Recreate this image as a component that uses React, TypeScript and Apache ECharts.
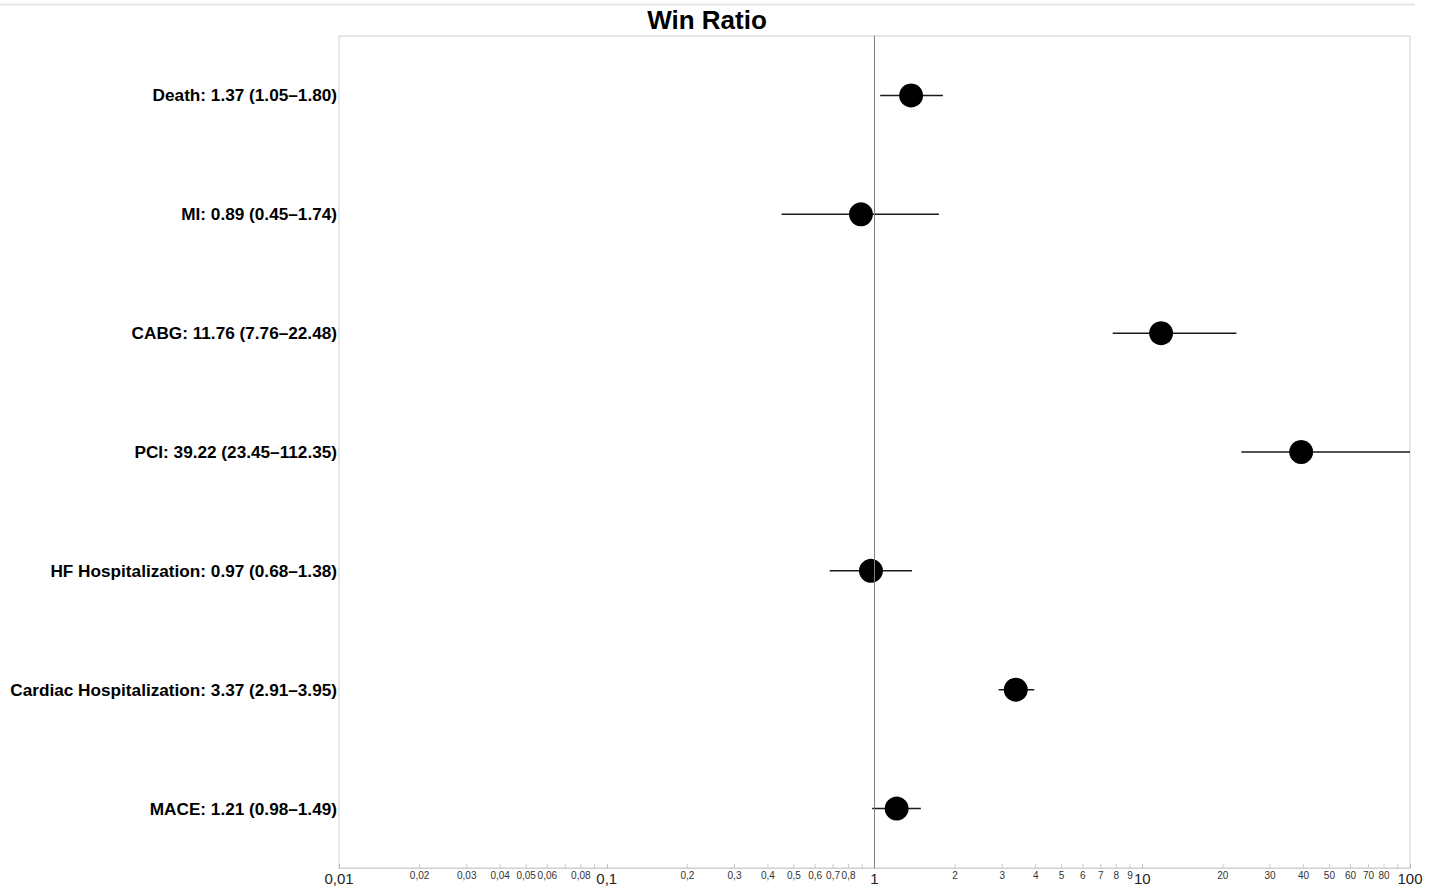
import React, { useEffect, useRef } from "react";
import * as echarts from "echarts";

const outcomes = ["Death", "MI", "CABG", "PCI", "HF Hospitalization", "Cardiac Hospitalization", "MACE"];
const estimates = [1.37, 0.89, 11.76, 39.22, 0.97, 3.37, 1.21];
const lowerCI = [1.05, 0.45, 7.76, 23.45, 0.68, 2.91, 0.98];
const upperCI = [1.8, 1.74, 22.48, 112.35, 1.38, 3.95, 1.49];

const minorTicks = [
  0.02, 0.03, 0.04, 0.05, 0.06, 0.07, 0.08, 0.09,
  0.2, 0.3, 0.4, 0.5, 0.6, 0.7, 0.8, 0.9,
  2, 3, 4, 5, 6, 7, 8, 9,
  20, 30, 40, 50, 60, 70, 80, 90,
];
const minorLabels = [
  0.02, 0.03, 0.04, 0.05, 0.06, 0.08,
  0.2, 0.3, 0.4, 0.5, 0.6, 0.7, 0.8,
  2, 3, 4, 5, 6, 7, 8, 9,
  20, 30, 40, 50, 60, 70, 80,
];

const fmtComma = (v: number) => String(v).replace(".", ",");

export default function App() {
  const ref = useRef<HTMLDivElement>(null);
  useEffect(() => {
    if (!ref.current) return;
    const chart = echarts.init(ref.current, null, { renderer: "svg" });
    const cats = outcomes.map(
      (o, i) => `${o}: ${estimates[i].toFixed(2)} (${lowerCI[i].toFixed(2)}–${upperCI[i].toFixed(2)})`
    );
    const font = "'Liberation Sans', Arial, Helvetica, sans-serif";
    chart.setOption({
      animation: false,
      textStyle: { fontFamily: font },
      title: {
        text: "Win Ratio",
        left: 702,
        top: 2,
        textAlign: "center",
        textStyle: { fontSize: 26, fontWeight: "bold", color: "#000", fontFamily: font },
      },
      graphic: [
        {
          type: "line",
          shape: { x1: 0, y1: 4.5, x2: 1415, y2: 4.5 },
          style: { stroke: "#e6e6e6", lineWidth: 2 },
          silent: true,
        },
      ],
      grid: {
        left: 339,
        right: 19,
        top: 36,
        bottom: 17,
        show: true,
        borderColor: "#cfcfcf",
        borderWidth: 1,
        containLabel: false,
      },
      xAxis: {
        type: "log",
        logBase: 10,
        min: 0.01,
        max: 100,
        splitLine: { show: false },
        axisLine: { show: true, lineStyle: { color: "#cfcfcf", width: 1 } },
        axisTick: { show: true, inside: true, length: 4, lineStyle: { color: "#bbbbbb" } },
        axisLabel: {
          show: true,
          margin: 3,
          fontSize: 15,
          color: "#222",
          fontFamily: font,
          formatter: (v: number) => fmtComma(Number(v.toPrecision(6))),
        },
      },
      yAxis: {
        type: "category",
        inverse: true,
        data: cats,
        axisLine: { show: false },
        axisTick: { show: false },
        splitLine: { show: false },
        axisLabel: {
          fontSize: 17.2,
          fontWeight: "bold",
          color: "#000",
          margin: 2,
          fontFamily: font,
        },
      },
      series: [
        {
          type: "custom",
          name: "minorTicks",
          silent: true,
          data: minorTicks.map((v) => [v, 0]),
          encode: { x: 0, y: 1 },
          renderItem: (params: any, api: any) => {
            const cs = params.coordSys;
            const p = api.coord([api.value(0), 0]);
            const yb = cs.y + cs.height;
            return {
              type: "line",
              shape: { x1: p[0], y1: yb, x2: p[0], y2: yb - 4 },
              style: { stroke: "#cccccc", lineWidth: 1 },
            };
          },
        },
        {
          type: "custom",
          name: "minorLabels",
          silent: true,
          data: minorLabels.map((v) => [v, 0]),
          encode: { x: 0, y: 1 },
          renderItem: (params: any, api: any) => {
            const cs = params.coordSys;
            const v = api.value(0);
            const p = api.coord([v, 0]);
            const yb = cs.y + cs.height;
            return {
              type: "text",
              x: p[0],
              y: yb + 2,
              style: {
                text: fmtComma(Number(v.toPrecision(6))),
                textAlign: "center",
                textVerticalAlign: "top",
                fontSize: 10,
                fontFamily: font,
                fill: "#333",
              },
            };
          },
        },
        {
          type: "custom",
          name: "CI",
          silent: true,
          data: outcomes.map((_, i) => [lowerCI[i], i, upperCI[i]]),
          encode: { x: [0, 2], y: 1 },
          renderItem: (params: any, api: any) => {
            const cs = params.coordSys;
            const a = api.coord([api.value(0), api.value(1)]);
            const b = api.coord([api.value(2), api.value(1)]);
            const clamp = (x: number) => Math.max(cs.x, Math.min(cs.x + cs.width, x));
            return {
              type: "line",
              shape: { x1: clamp(a[0]), y1: a[1], x2: clamp(b[0]), y2: b[1] },
              style: { stroke: "#1a1a1a", lineWidth: 1.5 },
            };
          },
          z: 3,
        },
        {
          type: "scatter",
          name: "Win Ratio",
          data: outcomes.map((_, i) => [estimates[i], i]),
          symbol: "circle",
          symbolSize: 24,
          itemStyle: { color: "#000", opacity: 1 },
          z: 4,
          markLine: {
            silent: true,
            symbol: ["none", "none"],
            label: { show: false },
            lineStyle: { color: "#808080", width: 1, type: "solid" },
            data: [{ xAxis: 1 }],
          },
        },
      ],
    });
    return () => chart.dispose();
  }, []);
  return (
    <div
      ref={ref}
      style={{ position: "fixed", left: 0, top: 0, width: 1429, height: 886, background: "#fff" }}
    />
  );
}
